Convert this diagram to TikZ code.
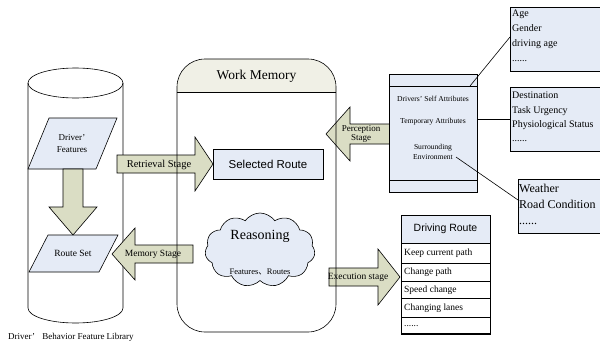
\documentclass[tikz,border=0pt]{standalone}
\usepackage{fontspec}
\setmainfont{Liberation Serif}
\newfontfamily\arialf{Liberation Sans}
\newfontfamily\cjkf{Noto Sans CJK SC}
\usetikzlibrary{shapes.symbols}
\definecolor{blueF}{RGB}{229,235,246}
\definecolor{khaki}{RGB}{218,221,196}
\definecolor{hdr}{RGB}{240,240,230}
\tikzset{
  ln/.style={draw=black, line width=0.6pt},
  blk/.style={ln, fill=khaki, line join=miter},
  bluebox/.style={ln, fill=blueF},
  lbl/.style={inner sep=0pt, align=center},
  fs/.style={font=\fontsize{#1}{#1}\selectfont},
}
\begin{document}
\begin{tikzpicture}[x=1pt,y=-1pt]
\useasboundingbox (0,0) rectangle (600,343);
\clip (0,0) rectangle (600,343);
\fill[white] (0,0) rectangle (600,343);

% cylinder
\filldraw[ln, fill=white] (28,83) -- (28,308) arc[start angle=180,end angle=0,x radius=47.5,y radius=15] -- (123,83);
\draw[ln] (75.5,83) ellipse[x radius=47.5, y radius=15];
\node[lbl, fs=9, anchor=west] (lib) at (8,337) {Driver’\hspace{5pt} Behavior Feature Library};

% Driver features parallelogram
\filldraw[bluebox] (49,118) -- (117,118) -- (96,169) -- (28,169) -- cycle;
\node[lbl, fs=9] (df) at (72,144) {Driver’\\[3pt]Features};
% route set
\filldraw[bluebox] (48,235) -- (118,235) -- (99,272) -- (29,272) -- cycle;
\node[lbl, fs=9.5] (rs) at (73,253) {Route Set};

% down arrow
\filldraw[blk] (63,169) -- (83,169) -- (83,207) -- (97,207) -- (73,235) -- (49,207) -- (63,207) -- cycle;

% work memory header fill
\fill[hdr] (177,92) -- (177,87) arc[start angle=180,end angle=270,radius=28] -- (308,59) arc[start angle=270,end angle=360,radius=28] -- (336,92) -- cycle;
\node[lbl, fs=13.5] (wm) at (256.5,76) {Work Memory};

% arrows
\filldraw[blk] (117,155) -- (195,155) -- (195,137) -- (213,164) -- (195,191) -- (195,173) -- (117,173) -- cycle;
\node[lbl, fs=10.5] (ret) at (159,164.5) {Retrieval Stage};

\filldraw[blk] (193,245) -- (135,245) -- (135,228) -- (112,254) -- (135,280) -- (135,263) -- (193,263) -- cycle;
\node[lbl, fs=9.5] (mem) at (153,254) {Memory Stage};

\filldraw[blk] (390,124) -- (350,124) -- (350,107) -- (326,134) -- (350,161) -- (350,144) -- (390,144) -- cycle;
\node[lbl, fs=9] (per) at (361,134) {Perception\\Stage};

\filldraw[blk] (329,268) -- (378,268) -- (378,249) -- (400,277) -- (378,305) -- (378,286) -- (329,286) -- cycle;
\node[lbl, fs=9.5] (exe) at (358,277) {Execution stage};

% work memory border
\draw[ln] (177,92) -- (336,92);
\draw[ln, rounded corners=28] (177,200) -- (177,59) -- (336,59) -- (336,332) -- (177,332) -- cycle;

% selected route
\node[bluebox, minimum width=110, minimum height=30, inner sep=0pt, font=\arialf\fontsize{11.5}{11.5}\selectfont] (sel) at (268,164) {Selected Route};

% cloud
\node[cloud, cloud puffs=11, cloud puff arc=110, aspect=1.5, bluebox, minimum width=110, minimum height=74, inner sep=0pt] (cl) at (260,250) {};
\node[lbl, fs=14] (reas) at (260,236) {Reasoning};
\node[lbl, fs=8.5] (feat) at (260,272) {Features{\cjkf 、}Routes};

% attribute box
\filldraw[bluebox] (389,74) rectangle (477,192);
\draw[ln] (389,86) -- (477,86);
\draw[ln] (389,180) -- (477,180);
\node[lbl, fs=7.6] (selfa) at (433,99) {Drivers’ Self Attributes};
\node[lbl, fs=7.6] (tempa) at (433,122) {Temporary Attributes};
\node[lbl, fs=7.6] (surr) at (433,152) {Surrounding\\[2pt]Environment};

% right boxes
\filldraw[bluebox] (510,7) rectangle (606,71);
\node[lbl, align=left, anchor=north west, font=\fontsize{10}{14.8}\selectfont] (agebox) at (512,10) {Age\\Gender\\driving age\\......};
\filldraw[bluebox] (510,87) rectangle (606,151);
\node[lbl, align=left, anchor=north west, font=\fontsize{10}{14.3}\selectfont] (destbox) at (512,92) {Destination\\Task Urgency\\Physiological Status\\......};
\filldraw[bluebox] (518,179) rectangle (606,233);
\node[lbl, align=left, anchor=north west, font=\fontsize{12}{16}\selectfont] (wbox) at (519,184) {Weather\\Road Condition\\......};

\coordinate (c1) at (470,86);
\coordinate (c2) at (510,37);
\coordinate (c3) at (477,119);
\coordinate (c4) at (510,119);
\coordinate (c5) at (456,157);
\coordinate (c6) at (518,200);
\draw[line width=0.6pt] (c1) -- (c2);
\draw[line width=0.6pt] (c3) -- (c4);
\draw[line width=0.6pt] (c5) -- (c6);

% driving route table
\filldraw[bluebox] (401,215) rectangle (490,243);
\node[lbl, font=\arialf\fontsize{10.5}{10.5}\selectfont] (dr) at (445.5,229) {Driving Route};
\draw[ln] (401,243) rectangle (490,334);
\draw[ln] (401,263) -- (490,263);
\draw[ln] (401,281) -- (490,281);
\draw[ln] (401,298) -- (490,298);
\draw[ln] (401,317) -- (490,317);
\draw[line width=1.4pt] (401,334) -- (490,334);
\node[lbl, fs=9.5, anchor=west] (r1) at (404,253) {Keep current path};
\node[lbl, fs=9.5, anchor=west] (r2) at (404,272) {Change path};
\node[lbl, fs=9.5, anchor=west] (r3) at (404,290) {Speed change};
\node[lbl, fs=9.5, anchor=west] (r4) at (404,308) {Changing lanes};
\node[lbl, fs=9.5, anchor=west] (r5) at (404,326) {......};
\end{tikzpicture}
\end{document}
